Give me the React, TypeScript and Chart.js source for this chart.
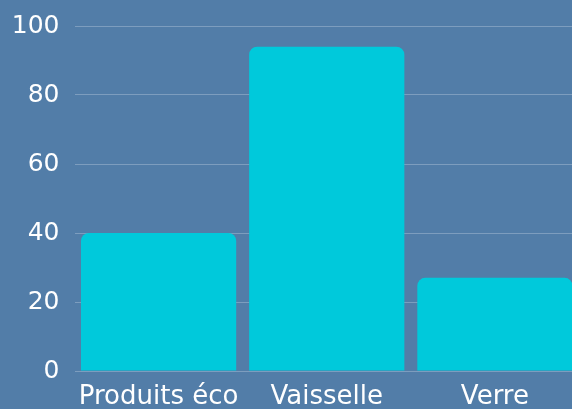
import React, { useEffect, useRef } from "react";
import { Chart, registerables } from "chart.js";

Chart.register(...registerables);

const categories = ["Produits éco", "Vaisselle", "Verre"];
const values = [40, 94, 27];
const yTicks = [0, 20, 40, 60, 80, 100];

export default function App() {
  const ref = useRef<HTMLCanvasElement>(null);
  useEffect(() => {
    document.body.style.margin = "0";
    document.body.style.background = "#527DA8";
    const chart = new Chart(ref.current!, {
      type: "bar",
      data: {
        labels: categories,
        datasets: [
          {
            data: values,
            backgroundColor: "#00C9DB",
            borderRadius: { topLeft: 8, topRight: 8, bottomLeft: 0, bottomRight: 0 },
            borderSkipped: false,
            categoryPercentage: 1,
            barPercentage: 0.923,
          },
        ],
      },
      options: {
        animation: false,
        responsive: false,
        maintainAspectRatio: false,
        layout: { padding: { top: 0, left: 0, right: 0, bottom: 0 } },
        plugins: { legend: { display: false }, tooltip: { enabled: false } },
        scales: {
          x: {
            grid: { display: false },
            border: { display: false },
            afterFit: (axis: any) => {
              axis.height = 38;
            },
            ticks: {
              color: "#ffffff",
              font: { family: "DejaVu Sans", size: 26 },
              padding: 3,
              maxRotation: 0,
              autoSkip: false,
            },
          },
          y: {
            min: 0,
            max: 100,
            afterBuildTicks: (axis: any) => {
              axis.ticks = yTicks.map((v) => ({ value: v }));
            },
            afterFit: (axis: any) => {
              axis.width = 74.5;
            },
            grid: { color: "rgba(255,255,255,0.25)", drawTicks: false },
            border: { display: false },
            ticks: {
              color: "#ffffff",
              font: { family: "DejaVu Sans", size: 25 },
              padding: 15,
            },
          },
        },
      },
    });
    return () => chart.destroy();
  }, []);
  return (
    <div style={{ width: 572, height: 409, background: "#527DA8", overflow: "hidden" }}>
      <canvas ref={ref} width={579} height={413} style={{ display: "block", marginTop: -4 }} />
    </div>
  );
}
